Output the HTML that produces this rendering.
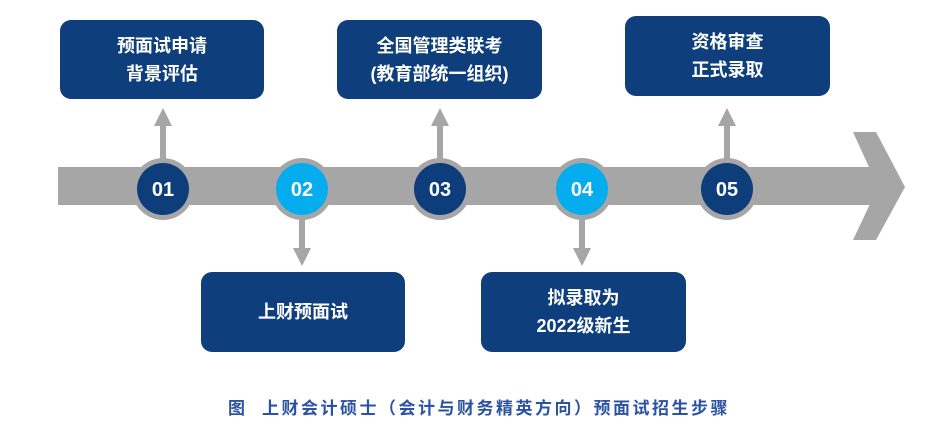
<!DOCTYPE html>
<html><head><meta charset="utf-8"><style>
body{margin:0;width:942px;height:431px;background:#fff;position:relative;overflow:hidden;font-family:"Liberation Sans","Noto Sans CJK SC",sans-serif}
.b{position:absolute;background:#0f3e7c;border-radius:11px;color:#fff;font-weight:bold;font-size:18px;line-height:28px;display:flex;align-items:center;justify-content:center;text-align:center}
.cap{position:absolute;left:228px;top:394px;font-size:17px;font-weight:bold;color:#2b52a3;letter-spacing:2.5px;white-space:nowrap}
</style></head><body>
<svg width="942" height="431" style="position:absolute;left:0;top:0">
<g fill="#a6a6a6">
<rect x="58" y="167" width="822" height="38"/>
<polygon points="853,132 876,132 905,187 876,240 853,240 878,187"/>
<rect x="160" y="124" width="6" height="40"/><polygon points="154,126 172,126 163,108"/>
<rect x="437" y="124" width="6" height="40"/><polygon points="431,126 449,126 440,108"/>
<rect x="724" y="124" width="6" height="40"/><polygon points="718,126 736,126 727,108"/>
<rect x="299" y="212" width="6" height="38"/><polygon points="293,248 311,248 302,266"/>
<rect x="579" y="212" width="6" height="38"/><polygon points="573,248 591,248 582,266"/>
</g>
<g>
<circle cx="163" cy="189" r="31" fill="#a6a6a6"/><circle cx="163" cy="189" r="26" fill="#0d3d7a"/>
<circle cx="302" cy="189" r="31" fill="#a6a6a6"/><circle cx="302" cy="189" r="26" fill="#05adef"/>
<circle cx="440" cy="189" r="31" fill="#a6a6a6"/><circle cx="440" cy="189" r="26" fill="#0d3d7a"/>
<circle cx="582" cy="189" r="31" fill="#a6a6a6"/><circle cx="582" cy="189" r="26" fill="#05adef"/>
<circle cx="727" cy="189" r="31" fill="#a6a6a6"/><circle cx="727" cy="189" r="26" fill="#0d3d7a"/>
</g>
<g fill="#fff" font-family="Liberation Sans, sans-serif" font-weight="bold" font-size="20" text-anchor="middle">
<text x="163" y="196">01</text><text x="302" y="196">02</text><text x="440" y="196">03</text><text x="582" y="196">04</text><text x="727" y="196">05</text>
</g>
</svg>
<div class="b" style="left:60px;top:20px;width:204px;height:79px">预面试申请<br>背景评估</div>
<div class="b" style="left:337px;top:20px;width:205px;height:79px">全国管理类联考<br>(教育部统一组织)</div>
<div class="b" style="left:625px;top:16px;width:205px;height:80px">资格审查<br>正式录取</div>
<div class="b" style="left:201px;top:272px;width:204px;height:80px">上财预面试</div>
<div class="b" style="left:481px;top:272px;width:205px;height:80px">拟录取为<br>2022级新生</div>
<div class="cap">图&nbsp;&nbsp;上财会计硕士（会计与财务精英方向）预面试招生步骤</div>
</body></html>
